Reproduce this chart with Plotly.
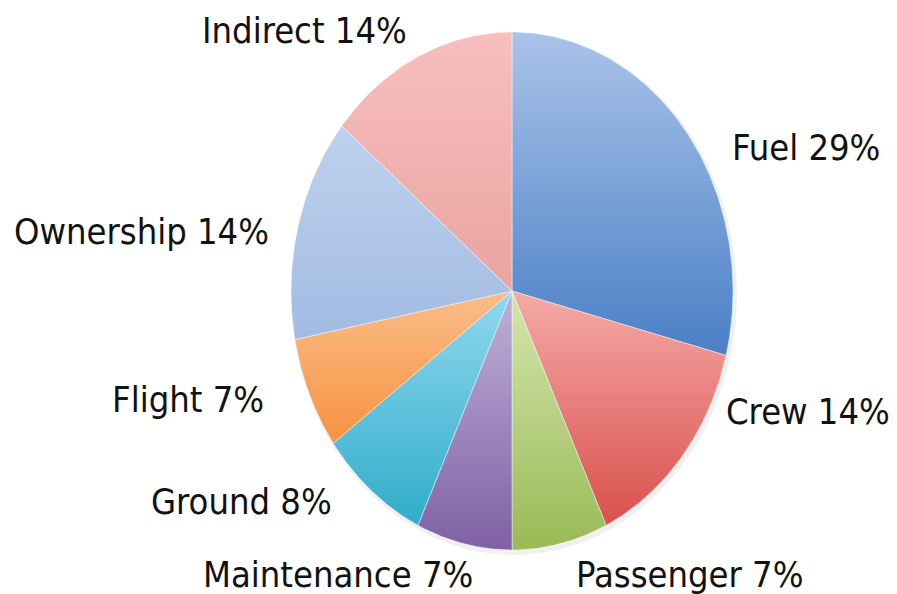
import numpy as np
import plotly.graph_objects as go

categories = ["Fuel", "Crew", "Passenger", "Maintenance", "Ground", "Flight", "Ownership", "Indirect"]
values = [29, 14, 7, 7, 8, 7, 14, 14]
labels = [f"{c} {v}%" for c, v in zip(categories, values)]

top_colors = ["#a9c3e8", "#f4aaa7", "#d4e6ae", "#c0b0d8", "#90d8ef", "#fbbd8a", "#bed2ee", "#f7bfbe"]
bottom_colors = ["#4a7fc6", "#d9504c", "#99ba55", "#7f61a4", "#30adc9", "#f7923f", "#a2bbe2", "#e9a4a1"]

# page geometry: the plot div sits 8px in from the page corner (default body margin)
W, H, OFF = 897, 594, 8
cx, cy, rx, ry = 512, 291, 221, 259

label_pos = {
    "Fuel": (806, 147),
    "Crew": (808, 411),
    "Passenger": (689, 574),
    "Maintenance": (338, 574),
    "Ground": (241, 501),
    "Flight": (188, 399),
    "Ownership": (141, 231),
    "Indirect": (304, 30),
}

fig = go.Figure()

# soft shadow
tt = np.linspace(0, 2 * np.pi, 300)
fig.add_trace(go.Scatter(
    x=cx + 2 + (rx + 2) * np.sin(tt), y=cy + 3 + (ry + 2) * np.cos(tt),
    mode="lines", fill="toself", fillcolor="rgba(0,0,0,0.06)",
    line=dict(width=0), hoverinfo="skip", showlegend=False))

total = sum(values)
cum = np.cumsum([0] + values) / total * 2 * np.pi
for i, cat in enumerate(categories):
    t = np.linspace(cum[i], cum[i + 1], 120)
    xs = np.concatenate([[cx], cx + rx * np.sin(t), [cx]])
    ys = np.concatenate([[cy], cy - ry * np.cos(t), [cy]])
    fig.add_trace(go.Scatter(
        x=xs, y=ys, mode="lines", fill="toself",
        fillgradient=dict(type="vertical",
                          colorscale=[[0, top_colors[i]], [1, bottom_colors[i]]],
                          start=float(ys.min()), stop=float(ys.max())),
        line=dict(color="rgba(255,255,255,0.45)", width=1),
        name=cat, hoverinfo="name", showlegend=False))

for cat, lab in zip(categories, labels):
    x, y = label_pos[cat]
    fig.add_annotation(x=x, y=y, text=lab, showarrow=False, xanchor="center", yanchor="middle",
                       font=dict(family="DejaVu Sans Condensed, sans-serif",
                                 size=36, color="#111111"))

fig.update_layout(
    width=W - OFF, height=H - OFF, margin=dict(l=0, r=0, t=0, b=0),
    paper_bgcolor="white", plot_bgcolor="white",
    xaxis=dict(range=[OFF, W], visible=False, fixedrange=True),
    yaxis=dict(range=[H, OFF], visible=False, fixedrange=True),
)
fig.write_html("out.html")
